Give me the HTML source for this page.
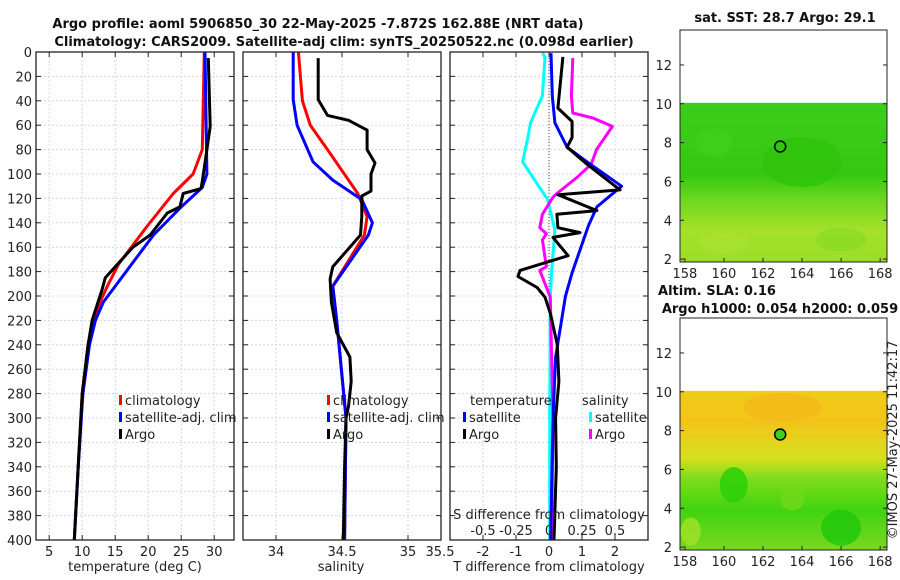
<!DOCTYPE html>
<html><head><meta charset="utf-8">
<style>
html,body{margin:0;padding:0;background:#fff;}
svg{display:block;font-family:"DejaVu Sans","Liberation Sans",sans-serif;}
.t{font-size:13px;fill:#222;}
.b{font-size:13px;font-weight:bold;fill:#111;}
</style></head>
<body>
<svg id="chart" width="900" height="580" viewBox="0 0 900 580">
<text class="b" x="318" y="28" text-anchor="middle">Argo profile: aoml 5906850_30 22-May-2025 -7.872S 162.88E (NRT data)</text>
<text class="b" x="344" y="46" text-anchor="middle">Climatology: CARS2009. Satellite-adj clim: synTS_20250522.nc (0.098d earlier)</text>
<g id="plots"></g>
<g id="maps"></g>
<text class="b" x="785" y="22" text-anchor="middle">sat. SST: 28.7 Argo: 29.1</text>
<text class="b" x="717" y="295" text-anchor="middle">Altim. SLA: 0.16</text>
<text class="b" x="780" y="313" text-anchor="middle">Argo h1000: 0.054 h2000: 0.059</text>
<text class="t" x="0" y="0" transform="translate(897,440) rotate(-90)" text-anchor="middle">©IMOS 27-May-2025 11:42:17</text>
</svg>
<script>
// ---- data ----
const depthTicks=[0,20,40,60,80,100,120,140,160,180,200,220,240,260,280,300,320,340,360,380,400];
const tempTicks=[5,10,15,20,25,30];
const salTicks=[34,34.5,35];
const tdiffTicks=[-2,-1,0,1,2];
const sdiffTicks=[-0.5,-0.25,0,0.25,0.5];
const sdiffTickLabels=["-0.5","-0.25","0","0.25","0.5"];

const tClimDepth=[0,80,100,116,143,174,192,205,220,240,280,340,400];
const tClimVal=[28.5,28.2,26.8,23.8,19.8,15.5,13.8,12.7,11.7,10.9,10.0,9.4,8.8];
const tSatDepth=[0,100,111,128,150,205,220,240,280,340,400];
const tSatVal=[28.6,28.9,28.2,24.8,20.8,13.2,12.0,11.1,10.1,9.4,8.8];
const tArgoDepth=[5,61,72,106,112,116,127,132,150,160,176,185,195,205,220,240,280,340,400];
const tArgoVal=[29.1,29.4,29.1,28.2,28.0,25.3,24.8,22.9,20.3,17.7,15.0,13.5,13.0,12.4,11.5,10.9,10.0,9.4,8.8];

const sClimDepth=[0,40,60,80,116,135,150,192,220,300,400];
const sClimVal=[34.17,34.2,34.26,34.39,34.62,34.69,34.67,34.43,34.46,34.53,34.52];
const sSatDepth=[0,39,60,90,105,121,140,150,192,220,300,400];
const sSatVal=[34.13,34.13,34.16,34.28,34.43,34.65,34.73,34.70,34.43,34.46,34.53,34.52];
const sArgoDepth=[5,39,52,56,64,80,91,100,114,118,135,150,160,176,186,205,230,250,270,290,300,340,400];
const sArgoVal=[34.32,34.32,34.39,34.55,34.69,34.69,34.75,34.72,34.72,34.65,34.65,34.64,34.56,34.43,34.41,34.42,34.46,34.56,34.57,34.55,34.53,34.52,34.51];

const dtSatDepth=[1,36,58,78,90,110,127,142,181,200,250,300,400];
const dtSatVal=[0.06,0.1,0.18,0.55,1.15,2.2,1.45,1.2,0.7,0.5,0.2,0.12,0.05];
const dtArgoDepth=[4,46,57,70,78,92,113,117,130,133,144,148,152,167,179,184,193,201,215,240,270,300,340,400];
const dtArgoVal=[0.42,0.27,0.7,0.7,0.55,1.15,2.15,0.27,1.45,0.24,0.27,0.94,0.12,0.58,-0.88,-0.94,-0.36,-0.12,0.05,0.25,0.3,0.2,0.22,0.15];
const dsSatDepth=[1,4,36,58,70,90,108,121,146,180,201,300,400];
const dsSatVal=[-0.05,-0.03,-0.05,-0.14,-0.16,-0.2,-0.09,-0.01,0.045,0.02,0.01,0.005,0.005];
const dsArgoDepth=[5,36,50,54,61,80,92,103,116,119,133,144,149,154,176,179,201,300,400];
const dsArgoVal=[0.18,0.17,0.18,0.33,0.48,0.36,0.32,0.21,0.06,0.03,-0.05,-0.07,-0.02,-0.05,-0.02,-0.07,0.01,0.03,0.02];

const NS="http://www.w3.org/2000/svg";
function mk(tag,attrs,parent){const e=document.createElementNS(NS,tag);for(const k in attrs)e.setAttribute(k,attrs[k]);parent.appendChild(e);return e;}
const plots=document.getElementById('plots');
const Y0=52,Y1=540;
function yD(d){return Y0+(d/400)*(Y1-Y0);}
function panel(x0,x1,vmin,vmax,name){
  const sx=v=>x0+(v-vmin)/(vmax-vmin)*(x1-x0);
  const g=mk('g',{},plots);
  
  
  return {g,sx,x0,x1};
}
function grid(p,xticks,showY){
  depthTicks.forEach(d=>{
    const l=mk('line',{x1:p.x0,x2:p.x1,y1:yD(d),y2:yD(d),stroke:'#cfd5f2','stroke-width':1,'stroke-dasharray':'2,2'},p.g);
    
    
    mk('line',{x1:p.x0,x2:p.x0+5,y1:yD(d),y2:yD(d),stroke:'#222'},p.g);
    mk('line',{x1:p.x1,x2:p.x1-5,y1:yD(d),y2:yD(d),stroke:'#222'},p.g);
    if(showY){const t=mk('text',{x:p.x0-4,y:yD(d)+5,'text-anchor':'end',class:'t'},p.g);t.textContent=d;
      
      }
  });
  xticks.forEach(v=>{
    const l=mk('line',{x1:p.sx(v),x2:p.sx(v),y1:Y0,y2:Y1,stroke:'#cfd5f2','stroke-width':1,'stroke-dasharray':'2,2'},p.g);
    
    
    mk('line',{x1:p.sx(v),x2:p.sx(v),y1:Y1,y2:Y1-5,stroke:'#222'},p.g);
    mk('line',{x1:p.sx(v),x2:p.sx(v),y1:Y0,y2:Y0+5,stroke:'#222'},p.g);
  });
}
function frame(p){const r=mk('rect',{x:p.x0,y:Y0,width:p.x1-p.x0,height:Y1-Y0,fill:'none',stroke:'#222','stroke-width':1.3},p.g);
  
  }
function line(p,ds,vs,color,name,sx){
  const f=sx||p.sx;
  const d=ds.map((dd,i)=>(i?'L':'M')+f(vs[i]).toFixed(1)+','+yD(dd).toFixed(1)).join('');
  const e=mk('path',{d:d,fill:'none',stroke:color,'stroke-width':3,'stroke-linejoin':'round'},p.g);
  
  
}
function xlabels(p,ticks,labels,y,f){
  ticks.forEach((v,i)=>{const t=mk('text',{x:(f||p.sx)(v),y:y,'text-anchor':'middle',class:'t'},p.g);t.textContent=labels?labels[i]:v;
    
    });
}
function txt(p,x,y,s,name,anchor){const t=mk('text',{x:x,y:y,class:'t','text-anchor':anchor||'start'},p.g);t.textContent=s;
  
  return t;}
function legend(p,x,y,color,label,name){
  const r=mk('rect',{x:x,y:y-10,width:3,height:10,fill:color},p.g);
  
  
  txt(p,x+6,y,label,name);
}
// panel 1 temperature
const p1=panel(36,234,3,33,'temperature-panel');
grid(p1,tempTicks,true);
line(p1,tClimDepth,tClimVal,'#ff0000','temp-climatology-line');
line(p1,tSatDepth,tSatVal,'#0000ff','temp-satellite-line');
line(p1,tArgoDepth,tArgoVal,'#000000','temp-argo-line');
frame(p1);
xlabels(p1,tempTicks,null,556);
txt(p1,135,571,'temperature (deg C)','temperature-axis-title','middle');
legend(p1,119,405,'#ff0000','climatology','legend-climatology');
legend(p1,119,422,'#0000ff','satellite-adj. clim','legend-satellite-adj');
legend(p1,119,439,'#000000','Argo','legend-argo');
// panel 2 salinity
const p2=panel(243,441,33.75,35.25,'salinity-panel');
grid(p2,salTicks,false);
line(p2,sClimDepth,sClimVal,'#ff0000','sal-climatology-line');
line(p2,sSatDepth,sSatVal,'#0000ff','sal-satellite-line');
line(p2,sArgoDepth,sArgoVal,'#000000','sal-argo-line');
frame(p2);
xlabels(p2,salTicks,null,556);
txt(p2,440,556,'35.5','salinity-tick-35.5','middle');
txt(p2,341,571,'salinity','salinity-axis-title','middle');
legend(p2,327,405,'#ff0000','climatology','legend-climatology');
legend(p2,327,422,'#0000ff','satellite-adj. clim','legend-satellite-adj');
legend(p2,327,439,'#000000','Argo','legend-argo');
// panel 3 differences
const p3=panel(450,648,-3,3,'difference-panel');
const sxS=v=>p3.sx(v*4);
grid(p3,tdiffTicks,false);
const z=mk('line',{x1:p3.sx(0),x2:p3.sx(0),y1:Y0,y2:Y1,stroke:'#444','stroke-width':1,'stroke-dasharray':'1,2'},p3.g);


line(p3,dsSatDepth,dsSatVal,'#00ffff','sdiff-satellite-line',sxS);
line(p3,dsArgoDepth,dsArgoVal,'#ff00ff','sdiff-argo-line',sxS);
line(p3,dtSatDepth,dtSatVal,'#0000ff','tdiff-satellite-line');
line(p3,dtArgoDepth,dtArgoVal,'#000000','tdiff-argo-line');
frame(p3);
xlabels(p3,tdiffTicks,null,556);
txt(p3,549,571,'T difference from climatology','tdiff-axis-title','middle');
txt(p3,549,519,'S difference from climatology','sdiff-axis-title','middle');
xlabels(p3,sdiffTicks,sdiffTickLabels,535,sxS);
txt(p3,470,405,'temperature','legend-temperature-header');
txt(p3,582,405,'salinity','legend-salinity-header');
legend(p3,463,422,'#0000ff','satellite','legend-tdiff-satellite');
legend(p3,463,439,'#000000','Argo','legend-tdiff-argo');
legend(p3,589,422,'#00ffff','satellite','legend-sdiff-satellite');
legend(p3,589,439,'#ff00ff','Argo','legend-sdiff-argo');

// ---- maps ----
const lonTicks=[158,160,162,164,166,168];
const latTicks=[2,4,6,8,10,12];
const argoLon=162.88, argoLat=7.8;
const maps=document.getElementById('maps');
function map(top,bottom,name,colorsTop,colorsBot){
  const g=mk('g',{},maps);
  
  
  const L=680,R=887,lonMin=157.75,lonMax=168.35,latMin=1.85,latMax=13.8;
  const sx=v=>L+(v-lonMin)/(lonMax-lonMin)*(R-L);
  const sy=v=>bottom-(v-latMin)/(latMax-latMin)*(bottom-top);
  const id=name+'-grad';
  const defs=mk('defs',{},g);
  const lg=mk('linearGradient',{id:id,x1:0,y1:0,x2:0,y2:1},defs);
  colorsTop.forEach(c=>mk('stop',{offset:c[0],'stop-color':c[1]},lg));
  const r=mk('rect',{x:L,y:sy(10.05),width:R-L,height:sy(1.85)-sy(10.05),fill:'url(#'+id+')'},g);
  
  
  colorsBot.forEach(b=>{const e=mk('ellipse',{cx:sx(b[0]),cy:sy(b[1]),rx:b[2],ry:b[3],fill:b[4],opacity:0.85},g);
    
    });
  const fr=mk('rect',{x:L,y:top,width:R-L,height:bottom-top,fill:'none',stroke:'#222'},g);
  
  
  lonTicks.forEach(v=>{mk('line',{x1:sx(v),x2:sx(v),y1:bottom,y2:bottom-4,stroke:'#222'},g);
    const t=mk('text',{x:sx(v),y:bottom+16,'text-anchor':'middle',class:'t'},g);t.textContent=v;
    
    });
  latTicks.forEach(v=>{mk('line',{x1:L,x2:L+4,y1:sy(v),y2:sy(v),stroke:'#222'},g);
    mk('line',{x1:R,x2:R-4,y1:sy(v),y2:sy(v),stroke:'#222'},g);
    const t=mk('text',{x:L-8,y:sy(v)+5,'text-anchor':'end',class:'t'},g);t.textContent=v;
    
    });
  const c=mk('circle',{cx:sx(argoLon),cy:sy(argoLat),r:5.5,fill:'none',stroke:'#000','stroke-width':1.5},g);
  
  
  return c;
}
map(30,262,'sst-map',[[0,'#3ccd1a'],[0.45,'#35c812'],[0.62,'#70d820'],[0.8,'#a6e02a'],[1,'#9ade28']],
  [[164,7,40,25,'#2fc40c'],[159.5,8,18,14,'#3fd01c'],[166,3,25,12,'#8cdc24'],[160,2.8,25,10,'#a8e230']]);
const m2=map(318,550,'sla-map',[[0,'#f0cc18'],[0.2,'#f2c41a'],[0.42,'#d8e020'],[0.55,'#7fdc1c'],[0.75,'#40d410'],[1,'#7ad820']],
  [[163,9.2,40,14,'#f5b81a'],[160.5,5.2,14,18,'#2cd008'],[166,3,20,18,'#22c80c'],[163.5,4.5,12,12,'#6ed818'],[158.3,2.8,10,14,'#9de028']]);
m2.setAttribute('fill','#3ed01a');
</script>
</body></html>
